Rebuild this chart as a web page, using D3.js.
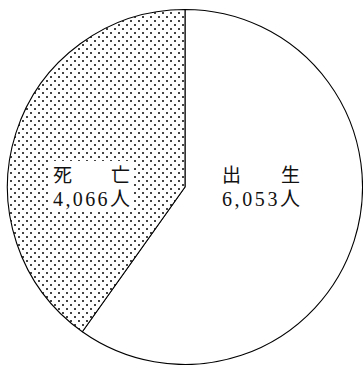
<!DOCTYPE html>
<html><head><meta charset="utf-8">
<script src="https://cdn.jsdelivr.net/npm/d3@7"></script>
<style>html,body{margin:0;padding:0;background:#fff;}svg{display:block;}</style>
</head><body>
<script>
const categories = ["出生", "死亡"];
const nameChars = [["出","生"],["死","亡"]];
const values = [6053, 4066];
const valueLabels = ["6,053人", "4,066人"];

const W = 363, H = 365, cx = 185, cy = 187, R = 177.5;
const svg = d3.select("body").append("svg").attr("width", W).attr("height", H);
const defs = svg.append("defs");
const pat = defs.append("pattern").attr("id","dots").attr("patternUnits","userSpaceOnUse")
  .attr("width",8).attr("height",8);
pat.append("rect").attr("width",8).attr("height",8).attr("fill","#fff");
pat.append("rect").attr("x",1).attr("y",1).attr("width",2).attr("height",2).attr("fill","#444");
pat.append("rect").attr("x",5).attr("y",5).attr("width",2).attr("height",2).attr("fill","#444");

const pie = d3.pie().sort(null).value(d => d);
const arcs = pie(values);
const arc = d3.arc().innerRadius(0).outerRadius(R);
const g = svg.append("g").attr("transform", `translate(${cx},${cy})`);
g.selectAll("path").data(arcs).join("path")
  .attr("d", arc)
  .attr("fill", (d,i) => i === 0 ? "#fff" : "url(#dots)")
  .attr("stroke", "#000").attr("stroke-width", 1.1).attr("stroke-linejoin","round");

// labels
const labelBoxes = [
  {x: 222, w: 78, bg: false},
  {x: 53, w: 77, bg: true}
];
const font = "'Liberation Serif','DejaVu Serif','Noto Sans CJK JP',serif";
labelBoxes.forEach((b, i) => {
  const lg = svg.append("g");
  if (b.bg) {
    lg.append("rect").attr("x", b.x - 3).attr("y", 161).attr("width", b.w + 6).attr("height", 51).attr("fill", "#fff");
  }
  lg.append("text").attr("x", b.x).attr("y", 182).attr("font-family", "'Noto Sans CJK JP'")
    .attr("font-size", 19).attr("fill", "#111").text(nameChars[i][0]);
  lg.append("text").attr("x", b.x + b.w).attr("y", 182).attr("text-anchor", "end").attr("font-family", "'Noto Sans CJK JP'")
    .attr("font-size", 19).attr("fill", "#111").text(nameChars[i][1]);
  lg.append("text").attr("x", b.x).attr("y", 206).attr("font-family", font)
    .attr("font-size", 20).attr("fill", "#111")
    .attr("textLength", b.w).attr("lengthAdjust", "spacing").text(valueLabels[i]);
});
</script>
</body></html>
